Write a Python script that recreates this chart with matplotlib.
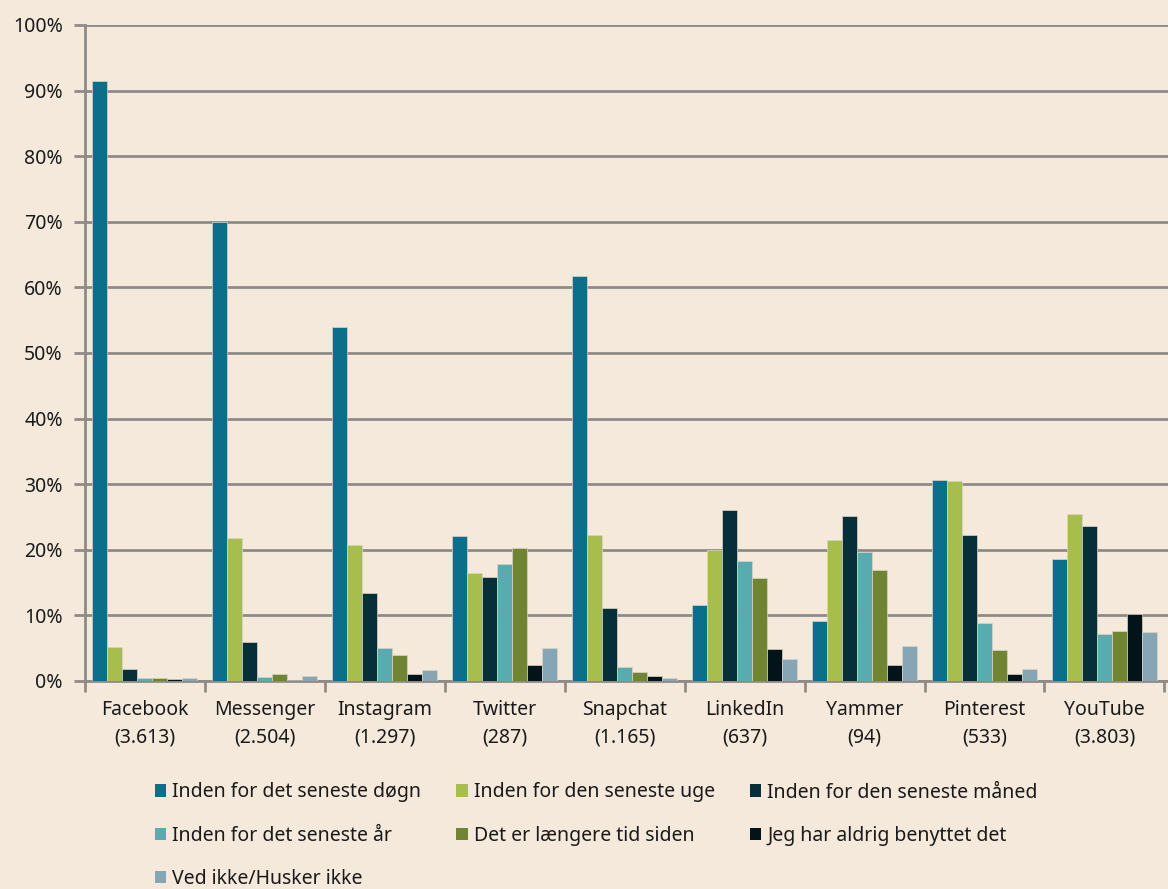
import numpy as np
import matplotlib.pyplot as plt
from matplotlib.patches import Patch

plt.rcParams['font.family'] = ['Noto Sans', 'DejaVu Sans']

# data
categories = ["Facebook\n(3.613)", "Messenger\n(2.504)", "Instagram\n(1.297)", "Twitter\n(287)",
              "Snapchat\n(1.165)", "LinkedIn\n(637)", "Yammer\n(94)", "Pinterest\n(533)", "YouTube\n(3.803)"]
series_names = ["Inden for det seneste døgn", "Inden for den seneste uge", "Inden for den seneste måned",
                "Inden for det seneste år", "Det er længere tid siden", "Jeg har aldrig benyttet det",
                "Ved ikke/Husker ikke"]
doegn = [91.4, 70.0, 53.9, 22.1, 61.8, 11.6, 9.1, 30.7, 18.6]
uge = [5.2, 21.8, 20.8, 16.4, 22.2, 20.0, 21.5, 30.5, 25.4]
maaned = [1.8, 5.9, 13.4, 15.8, 11.1, 26.0, 25.2, 22.2, 23.7]
aar = [0.5, 0.6, 5.1, 17.9, 2.1, 18.3, 19.7, 8.9, 7.2]
laengere = [0.5, 1.1, 4.0, 20.2, 1.4, 15.7, 16.9, 4.8, 7.6]
aldrig = [0.3, 0.2, 1.1, 2.5, 0.8, 4.9, 2.4, 1.0, 10.2]
vedikke = [0.5, 0.7, 1.7, 5.1, 0.4, 3.4, 5.3, 1.8, 7.4]
series = [doegn, uge, maaned, aar, laengere, aldrig, vedikke]

colors = ["#0B6E8A", "#A7BE4C", "#062F3A", "#5AABB0", "#6F8533", "#02141A", "#86A6B6"]
BG = "#F5E9DC"
GRID = "#8E8B87"
TXT = "#1A1A1A"

fig = plt.figure(figsize=(11.68, 8.89), dpi=100, facecolor=BG)
ax = fig.add_axes([85 / 1168, 1 - 681 / 889, 1 - 85 / 1168, 656 / 889])
ax.set_facecolor(BG)

n = len(series)
w = 0.875 / n
x = np.arange(len(categories))
for i, (vals, col) in enumerate(zip(series, colors)):
    ax.bar(x + 0.0625 + i * w, vals, width=w, align="edge", color=col,
           edgecolor="#D9D4C8", linewidth=0.5, label=series_names[i], zorder=3)

ax.set_xlim(0, len(categories) + 0.03)
ax.set_ylim(0, 100)
ax.set_yticks(np.arange(0, 101, 10))
ax.set_yticklabels([f"{v}%" for v in range(0, 101, 10)], fontsize=14, color=TXT)
ax.set_xticks(np.arange(len(categories) + 1), minor=True)
ax.set_xticks(x + 0.5)
ax.set_xticklabels(categories, fontsize=14, color=TXT, linespacing=1.45)
ax.tick_params(axis="x", which="major", length=0, pad=14)
ax.tick_params(axis="x", which="minor", length=8, width=2, color=GRID)
ax.tick_params(axis="y", length=8, width=2, color=GRID, pad=8)
ax.grid(axis="y", color=GRID, linewidth=2, zorder=0)
for s in ["top", "right"]:
    ax.spines[s].set_visible(False)
for s in ["left", "bottom"]:
    ax.spines[s].set_color(GRID)
    ax.spines[s].set_linewidth(2)

# legend is filled row by row in the reference -> reorder for matplotlib's column fill
order = [0, 3, 6, 1, 4, 2, 5]
handles = [Patch(facecolor=colors[k]) for k in order]
labels = [series_names[k] for k in order]
fig.legend(handles, labels, ncol=3, loc="upper left",
           bbox_to_anchor=(137 / 1168, 1 - 765 / 889), frameon=False, fontsize=14,
           handlelength=0.6, handleheight=0.6, handletextpad=0.3, columnspacing=1.8,
           labelspacing=1.2, labelcolor=TXT)

fig.savefig("out.png", dpi=100, facecolor=BG)
